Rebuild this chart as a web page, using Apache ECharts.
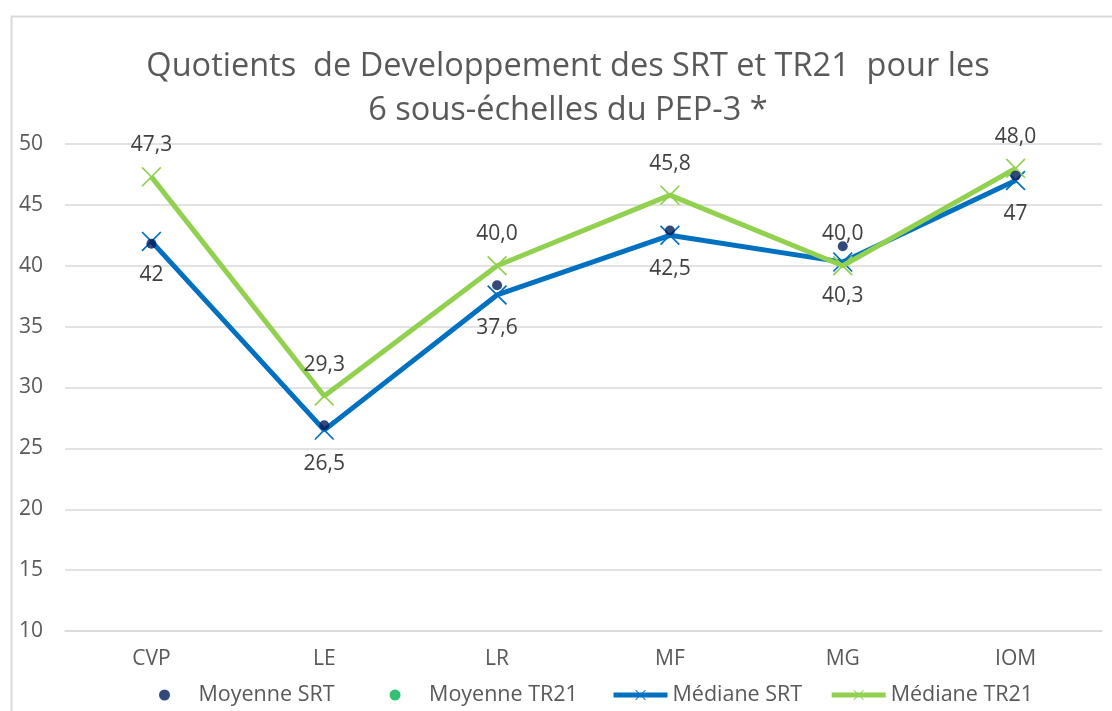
<!DOCTYPE html>
<html>
<head>
<meta charset="utf-8">
<script src="https://cdn.jsdelivr.net/npm/echarts@6/dist/echarts.min.js"></script>
<style>
html,body{margin:0;padding:0;background:#fff;}
#chart{width:1112px;height:711px;}
</style>
</head>
<body>
<div id="chart"></div>
<script>
var categories = ['CVP', 'LE', 'LR', 'MF', 'MG', 'IOM'];
var moyenneSRT = [41.8, 26.9, 38.4, 42.9, 41.6, 47.4];
var moyenneTR21 = [];
var medianeSRT = [42, 26.5, 37.6, 42.5, 40.3, 47];
var medianeTR21 = [47.3, 29.3, 40.0, 45.8, 40.0, 48.0];
var yTicks = { min: 10, max: 50, interval: 5 };
var titleText = 'Quotients  de Developpement des SRT et TR21  pour les\n6 sous-échelles du PEP-3 *';

var FONT = '"Open Sans", "Noto Sans", sans-serif';
var XPATH = 'path://M0,1.2 L1.2,0 L10,8.8 L18.8,0 L20,1.2 L11.2,10 L20,18.8 L18.8,20 L10,11.2 L1.2,20 L0,18.8 L8.8,10 Z';

var chart = echarts.init(document.getElementById('chart'));
chart.setOption({
  backgroundColor: '#ffffff',
  animation: false,
  textStyle: { fontFamily: FONT },
  graphic: [{
    type: 'rect', left: 9, top: 14, silent: true,
    shape: { width: 1130, height: 720 },
    style: { fill: 'none', stroke: '#d9d9d9', lineWidth: 2 }
  }],
  title: {
    text: titleText,
    left: 568, textAlign: 'center', top: 45, padding: 0,
    textStyle: { fontFamily: FONT, fontSize: 32.5, fontWeight: 'normal', color: '#595959', lineHeight: 44 }
  },
  legend: [
    {
      left: 154, top: 679,
      itemWidth: 58, itemHeight: 11, itemGap: 55,
      textStyle: { fontFamily: FONT, fontSize: 21.5, color: '#595959' },
      data: ['Moyenne SRT', 'Moyenne TR21']
    },
    {
      left: 606, top: 679,
      itemWidth: 54, itemHeight: 13, itemGap: 27,
      lineStyle: { width: 5 },
      textStyle: { fontFamily: FONT, fontSize: 21.5, color: '#595959' },
      data: ['Médiane SRT', 'Médiane TR21']
    }
  ],
  grid: { left: 65, right: 10, top: 144, bottom: 80, containLabel: false },
  xAxis: {
    type: 'category', data: categories, boundaryGap: true,
    axisLine: { lineStyle: { color: '#d9d9d9', width: 1.5 } },
    axisTick: { show: false },
    axisLabel: { color: '#595959', fontSize: 21, margin: 18, fontFamily: FONT }
  },
  yAxis: {
    type: 'value', min: yTicks.min, max: yTicks.max, interval: yTicks.interval,
    axisLine: { show: false }, axisTick: { show: false },
    splitLine: { lineStyle: { color: '#d9d9d9', width: 1.5 } },
    axisLabel: { color: '#595959', fontSize: 21, margin: 22, fontFamily: FONT }
  },
  series: [
    {
      name: 'Médiane SRT', type: 'line', data: medianeSRT, z: 3,
      color: '#0070C0',
      lineStyle: { color: '#0070C0', width: 5 },
      symbol: XPATH, symbolSize: 20, showAllSymbol: true,
      itemStyle: { color: '#0070C0' },
      label: {
        show: true, position: 'bottom', distance: 13, color: '#404040', fontSize: 21, fontFamily: FONT,
        formatter: function (p) { return String(p.value).replace('.', ','); }
      }
    },
    {
      name: 'Médiane TR21', type: 'line', data: medianeTR21, z: 4,
      color: '#92D050',
      lineStyle: { color: '#92D050', width: 5 },
      symbol: XPATH, symbolSize: 20, showAllSymbol: true,
      itemStyle: { color: '#92D050' },
      label: {
        show: true, position: 'top', distance: 11, color: '#404040', fontSize: 21, fontFamily: FONT,
        formatter: function (p) { return p.value.toFixed(1).replace('.', ','); }
      }
    },
    {
      name: 'Moyenne SRT', type: 'scatter', data: moyenneSRT, z: 6,
      symbol: 'circle', symbolSize: 10,
      itemStyle: { color: '#001B57' }
    },
    {
      name: 'Moyenne TR21', type: 'scatter', data: moyenneTR21, z: 5,
      symbol: 'circle', symbolSize: 10,
      itemStyle: { color: '#00B050' }
    }
  ]
});
</script>
</body>
</html>
